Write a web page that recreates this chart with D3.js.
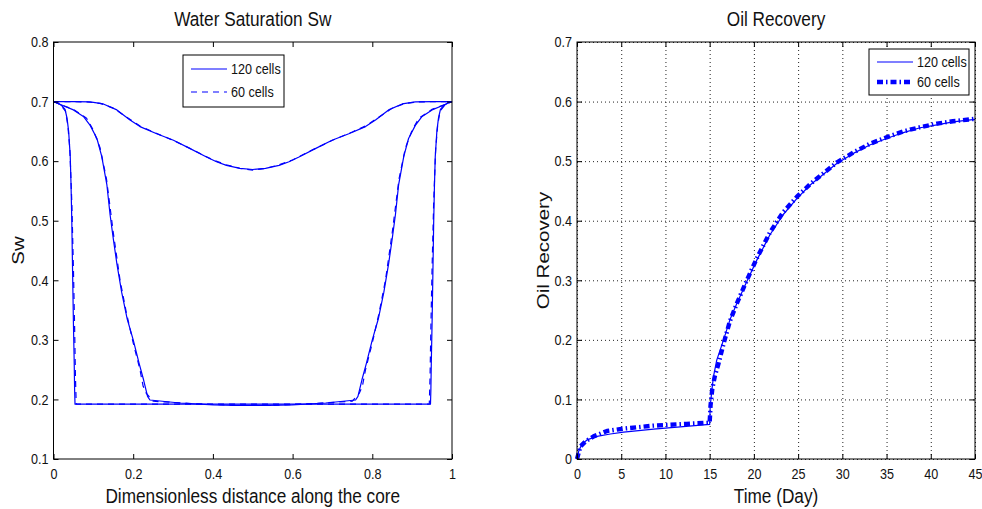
<!DOCTYPE html>
<html>
<head>
<meta charset="utf-8">
<script src="https://cdn.jsdelivr.net/npm/d3@7"></script>
<style>
  body { margin: 0; background: #fff; }
  svg { display: block; font-family: "Liberation Sans", Arial, Helvetica, sans-serif; }
</style>
</head>
<body>
<svg id="chart" width="982" height="509"></svg>
<script>
// ---------- Water saturation profiles: [dimensionless distance, Sw] ----------
// three snapshots in time, fine grid (120 cells) and coarse grid (60 cells)
const swEarly120 = [[0,0.700],[0.010,0.698],[0.021,0.693],[0.029,0.687],[0.034,0.672],[0.038,0.650],[0.042,0.608],[0.044,0.560],[0.046,0.496],[0.048,0.410],[0.050,0.328],[0.052,0.260],[0.053,0.216],[0.054,0.192],
  [0.946,0.192],[0.947,0.216],[0.948,0.260],[0.950,0.328],[0.952,0.410],[0.954,0.496],[0.956,0.560],[0.958,0.608],[0.962,0.650],[0.966,0.672],[0.971,0.687],[0.979,0.693],[0.990,0.698],[1,0.700]];
const swEarly60 = [[0,0.700],[0.017,0.695],[0.030,0.684],[0.036,0.660],[0.041,0.620],[0.046,0.530],[0.050,0.420],[0.053,0.320],[0.055,0.240],[0.057,0.192],
  [0.943,0.192],[0.945,0.240],[0.947,0.320],[0.950,0.420],[0.954,0.530],[0.959,0.620],[0.964,0.660],[0.970,0.684],[0.983,0.695],[1,0.700]];

const swMid120 = [[0,0.700],[0.025,0.693],[0.050,0.686],[0.075,0.675],[0.092,0.660],[0.109,0.638],[0.121,0.608],[0.134,0.560],[0.142,0.510],[0.150,0.470],[0.159,0.428],[0.171,0.380],[0.185,0.335],[0.200,0.300],[0.215,0.260],[0.226,0.233],[0.236,0.205],[0.242,0.199],
  [0.317,0.194],[0.401,0.191],[0.459,0.190],[0.541,0.190],[0.599,0.191],[0.683,0.194],
  [0.758,0.199],[0.764,0.205],[0.774,0.233],[0.785,0.260],[0.800,0.300],[0.815,0.335],[0.829,0.380],[0.841,0.428],[0.850,0.470],[0.858,0.510],[0.866,0.560],[0.879,0.608],[0.891,0.638],[0.908,0.660],[0.925,0.675],[0.950,0.686],[0.975,0.693],[1,0.700]];
const swMid60 = [[0,0.700],[0.017,0.695],[0.050,0.687],[0.083,0.672],[0.100,0.652],[0.117,0.622],[0.133,0.570],[0.150,0.480],[0.167,0.400],[0.183,0.345],[0.200,0.295],[0.217,0.250],[0.225,0.222],[0.233,0.210],[0.250,0.197],
  [0.350,0.193],[0.450,0.190],[0.550,0.190],[0.650,0.193],
  [0.750,0.197],[0.767,0.210],[0.775,0.222],[0.783,0.250],[0.800,0.295],[0.817,0.345],[0.833,0.400],[0.850,0.480],[0.867,0.570],[0.883,0.622],[0.900,0.652],[0.917,0.672],[0.950,0.687],[0.983,0.695],[1,0.700]];

const swLate120 = [[0,0.700],[0.050,0.700],[0.092,0.6995],[0.125,0.696],[0.159,0.686],[0.192,0.669],[0.217,0.658],[0.259,0.646],[0.301,0.635],[0.343,0.621],[0.384,0.607],[0.409,0.599],[0.434,0.593],[0.468,0.588],[0.500,0.586],
  [0.532,0.588],[0.566,0.593],[0.591,0.599],[0.616,0.607],[0.657,0.621],[0.699,0.635],[0.741,0.646],[0.783,0.658],[0.808,0.669],[0.841,0.686],[0.875,0.696],[0.908,0.6995],[0.950,0.700],[1,0.700]];
const swLate60 = [[0,0.700],[0.083,0.6995],[0.117,0.697],[0.150,0.689],[0.183,0.674],[0.217,0.659],[0.250,0.649],[0.300,0.635],[0.350,0.619],[0.400,0.602],[0.433,0.594],[0.467,0.588],[0.500,0.585],
  [0.533,0.588],[0.567,0.594],[0.600,0.602],[0.650,0.619],[0.700,0.635],[0.750,0.649],[0.783,0.659],[0.817,0.674],[0.850,0.689],[0.883,0.697],[0.917,0.6995],[1,0.700]];

// ---------- Oil recovery vs time ----------
const time120 = [0,0.19,0.56,1.13,2.26,3.77,5.27,8.66,11.67,15.0,15.06,15.25,15.44,15.8,16.57,17.3,18.07,19.2,20.3,21.8,23.3,24.85,26.36,27.86,29.37,31.25,33.1,35.0,36.9,38.8,40.7,42.5,45];
const rec120  = [0,0.013,0.025,0.032,0.038,0.042,0.045,0.050,0.054,0.058,0.088,0.116,0.139,0.166,0.200,0.234,0.261,0.298,0.333,0.376,0.410,0.437,0.460,0.478,0.496,0.513,0.527,0.538,0.548,0.556,0.561,0.566,0.570];
const time60  = [0,0.38,1.0,1.88,3.39,5.27,8.66,12.4,15.0,15.1,15.3,15.6,16.0,16.6,17.3,18.1,19.2,20.3,21.8,23.3,24.85,26.4,27.9,29.4,31.3,33.1,35.0,36.9,38.8,40.7,42.5,45];
const rec60   = [0,0.021,0.030,0.038,0.047,0.051,0.056,0.059,0.061,0.090,0.118,0.140,0.160,0.195,0.232,0.262,0.300,0.336,0.380,0.414,0.440,0.462,0.480,0.498,0.515,0.529,0.540,0.550,0.557,0.563,0.567,0.571];

// ---------- Axis ticks and labels ----------
const swXTicks = [0, 0.2, 0.4, 0.6, 0.8, 1];
const swYTicks = [0.1, 0.2, 0.3, 0.4, 0.5, 0.6, 0.7, 0.8];
const recXTicks = [0, 5, 10, 15, 20, 25, 30, 35, 40, 45];
const recYTicks = [0, 0.1, 0.2, 0.3, 0.4, 0.5, 0.6, 0.7];
const seriesNames = ["120 cells", "60 cells"];

// ---------- Drawing ----------
const svg = d3.select("#chart");
const BLUE = "#0000ff";
const SX = 0.84;            // horizontal compression of lettering
const TICK_FONT = 15, LABEL_FONT = 20.5, LEGEND_FONT = 15;
const fmt = d3.format("~g");

function squeezeText(sel) {
  sel.each(function () {
    const t = this.getAttribute("transform") || "";
    this.setAttribute("transform", t + " scale(" + SX + ",1)");
  });
}

function panel(opt) {
  const x = d3.scaleLinear().domain(opt.xDomain).range([opt.left, opt.right]);
  const y = d3.scaleLinear().domain(opt.yDomain).range([opt.bottom, opt.top]);
  const g = svg.append("g");
  const w = opt.right - opt.left, h = opt.bottom - opt.top;

  if (opt.grid) {
    const gg = g.append("g").attr("class", "grid");
    gg.append("g").attr("transform", `translate(0,${opt.bottom})`)
      .call(d3.axisBottom(x).tickValues(opt.xTicks).tickSize(-h).tickFormat(""));
    gg.append("g").attr("transform", `translate(${opt.left},0)`)
      .call(d3.axisLeft(y).tickValues(opt.yTicks).tickSize(-w).tickFormat(""));
    gg.selectAll(".domain").remove();
    gg.selectAll("line").attr("stroke", "#222").attr("stroke-width", 1).attr("stroke-dasharray", "1,3");
  }

  // curves
  opt.curves.forEach(c => {
    g.append("path").datum(c.data)
      .attr("fill", "none").attr("stroke", BLUE)
      .attr("stroke-width", c.width).attr("stroke-dasharray", c.dash || null)
      .attr("stroke-linejoin", "round")
      .attr("d", d3.line().x(d => x(d[0])).y(d => y(d[1])));
  });

  // axes with inward ticks on all four sides
  const ax = [
    { a: d3.axisBottom(x).tickValues(opt.xTicks).tickSize(-5).tickPadding(9).tickFormat(fmt), t: `translate(0,${opt.bottom})` },
    { a: d3.axisTop(x).tickValues(opt.xTicks).tickSize(-5).tickFormat(""), t: `translate(0,${opt.top})` },
    { a: d3.axisLeft(y).tickValues(opt.yTicks).tickSize(-5).tickPadding(6).tickFormat(fmt), t: `translate(${opt.left},0)` },
    { a: d3.axisRight(y).tickValues(opt.yTicks).tickSize(-5).tickFormat(""), t: `translate(${opt.right},0)` }
  ];
  ax.forEach(o => {
    const s = g.append("g").attr("transform", o.t).call(o.a);
    s.select(".domain").remove();
    s.selectAll("line").attr("stroke", "#000");
    s.selectAll("text").attr("font-size", TICK_FONT).attr("fill", "#111")
      .attr("font-family", "Liberation Sans, Arial, sans-serif");
    squeezeText(s.selectAll("text"));
  });

  g.append("rect").attr("x", opt.left).attr("y", opt.top).attr("width", w).attr("height", h)
    .attr("fill", "none").attr("stroke", "#000").attr("stroke-width", 1);

  // title and axis labels
  const cx = (opt.left + opt.right) / 2, cy = (opt.top + opt.bottom) / 2;
  const lbl = (txt, tf) => g.append("text").attr("transform", tf)
    .attr("text-anchor", "middle").attr("font-size", LABEL_FONT).attr("fill", "#111").text(txt);
  lbl(opt.title, `translate(${cx},26) scale(${SX},1)`);
  lbl(opt.xLabel, `translate(${cx},503) scale(${SX},1)`);
  lbl(opt.yLabel, `translate(${opt.yLabelX},${cy}) scale(${SX},1) rotate(-90)`);

  // legend
  const L = opt.legend;
  const lg = g.append("g");
  lg.append("rect").attr("x", L.x).attr("y", L.y).attr("width", L.w).attr("height", L.h)
    .attr("fill", "#fff").attr("stroke", "#000").attr("stroke-width", 1);
  opt.curves.filter(c => c.legend !== undefined).forEach(c => {
    const yy = L.y + L.rows[c.legend];
    lg.append("line").attr("x1", L.x + 8).attr("x2", L.x + 44).attr("y1", yy).attr("y2", yy)
      .attr("stroke", BLUE).attr("stroke-width", c.width).attr("stroke-dasharray", c.dash || null);
    lg.append("text").attr("transform", `translate(${L.x + 48},${yy + 5}) scale(${SX},1)`)
      .attr("font-size", LEGEND_FONT).attr("fill", "#111").text(seriesNames[c.legend]);
  });
}

const dashL = "6,5";
panel({
  left: 53.5, right: 452, top: 42, bottom: 459,
  xDomain: [0, 1], yDomain: [0.1, 0.8], xTicks: swXTicks, yTicks: swYTicks,
  title: "Water Saturation Sw", xLabel: "Dimensionless distance along the core", yLabel: "Sw", yLabelX: 24,
  grid: false,
  curves: [
    { data: swEarly120, width: 1.2, legend: 0 },
    { data: swMid120, width: 1.2 },
    { data: swLate120, width: 1.2 },
    { data: swEarly60, width: 1.2, dash: dashL, legend: 1 },
    { data: swMid60, width: 1.2, dash: dashL },
    { data: swLate60, width: 1.2, dash: dashL }
  ],
  legend: { x: 183, y: 55, w: 101, h: 52, rows: [14, 37] }
});

panel({
  left: 577, right: 975, top: 42, bottom: 459,
  xDomain: [0, 45], yDomain: [0, 0.7], xTicks: recXTicks, yTicks: recYTicks,
  title: "Oil Recovery", xLabel: "Time (Day)", yLabel: "Oil Recovery", yLabelX: 549,
  grid: true,
  curves: [
    { data: time120.map((t, i) => [t, rec120[i]]), width: 1.2, legend: 0 },
    { data: time60.map((t, i) => [t, rec60[i]]), width: 4.4, dash: "6,3,1.5,3", legend: 1 }
  ],
  legend: { x: 869, y: 49, w: 100, h: 46, rows: [13, 33] }
});
</script>
</body>
</html>
